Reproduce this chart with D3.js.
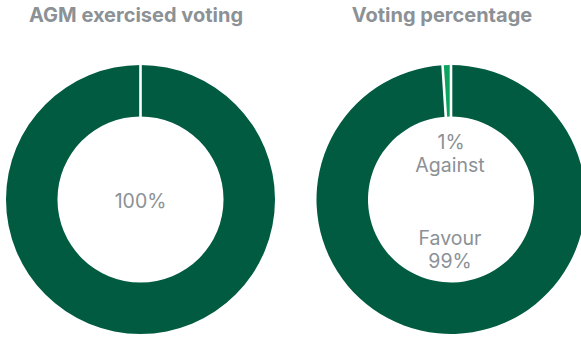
<!DOCTYPE html>
<html>
<head>
<meta charset="utf-8">
<script src="https://cdn.jsdelivr.net/npm/d3@7"></script>
<style>
  html, body { margin: 0; padding: 0; background: #ffffff; }
  svg { display: block; }
</style>
</head>
<body>
<svg id="chart" width="581" height="338"></svg>
<script>
// Chart titles
const titles = ["AGM exercised voting", "Voting percentage"];

// Left donut: share of exercised votes
const exercisedLabels = ["Exercised"];
const exercisedValues = [100];

// Right donut: vote outcome
const voteLabels = ["Favour", "Against"];
const voteValues = [99, 1];

const colors = {
  dark: "#005b41",
  light: "#0ba45e",
  text: "#8b9195"
};

const svg = d3.select("#chart");
const outerR = 134.5;
const innerR = 83;

const pie = d3.pie().sort(null).value(d => d.value);
const arc = d3.arc().innerRadius(innerR).outerRadius(outerR);

function donut(cx, cy, labels, values, fills) {
  const data = labels.map((l, i) => ({ label: l, value: values[i] }));
  const arcs = pie(data);
  const g = svg.append("g").attr("transform", `translate(${cx},${cy})`);

  g.selectAll("path.slice")
    .data(arcs)
    .join("path")
    .attr("class", "slice")
    .attr("d", arc)
    .attr("fill", (d, i) => fills[i]);

  // white separators at every slice start
  g.selectAll("line.sep")
    .data(arcs)
    .join("line")
    .attr("class", "sep")
    .attr("x1", d => Math.sin(d.startAngle) * (innerR - 1))
    .attr("y1", d => -Math.cos(d.startAngle) * (innerR - 1))
    .attr("x2", d => Math.sin(d.startAngle) * (outerR + 1))
    .attr("y2", d => -Math.cos(d.startAngle) * (outerR + 1))
    .attr("stroke", "#ffffff")
    .attr("stroke-width", 2.6);

  return { g, arcs };
}

// Titles
svg.append("text")
  .attr("x", 136).attr("y", 22)
  .attr("text-anchor", "middle")
  .attr("font-family", "Inter, 'Open Sans', sans-serif")
  .attr("font-weight", 700)
  .attr("font-size", 20)
  .attr("fill", colors.text)
  .text(titles[0]);

svg.append("text")
  .attr("x", 442).attr("y", 22)
  .attr("text-anchor", "middle")
  .attr("font-family", "Inter, 'Open Sans', sans-serif")
  .attr("font-weight", 700)
  .attr("font-size", 20)
  .attr("fill", colors.text)
  .text(titles[1]);

const labelStyle = sel => sel
  .attr("text-anchor", "middle")
  .attr("font-family", "Inter, sans-serif")
  .attr("font-weight", 400)
  .attr("font-size", 19.5)
  .attr("fill", colors.text);

// Left donut
const left = donut(140.5, 199.5, exercisedLabels, exercisedValues, [colors.dark]);
left.g.append("text").call(labelStyle)
  .attr("x", 0).attr("y", 8)
  .text(d3.format(".0f")(exercisedValues[0]) + "%");

// Right donut
const right = donut(451, 199.5, voteLabels, voteValues, [colors.dark, colors.light]);
right.g.append("text").call(labelStyle).attr("x", 0).attr("y", -51).text(voteValues[1] + "%");
right.g.append("text").call(labelStyle).attr("x", -1).attr("y", -28).text(voteLabels[1]);
right.g.append("text").call(labelStyle).attr("x", -1).attr("y", 45).text(voteLabels[0]);
right.g.append("text").call(labelStyle).attr("x", -1).attr("y", 68).text(voteValues[0] + "%");
</script>
</body>
</html>
